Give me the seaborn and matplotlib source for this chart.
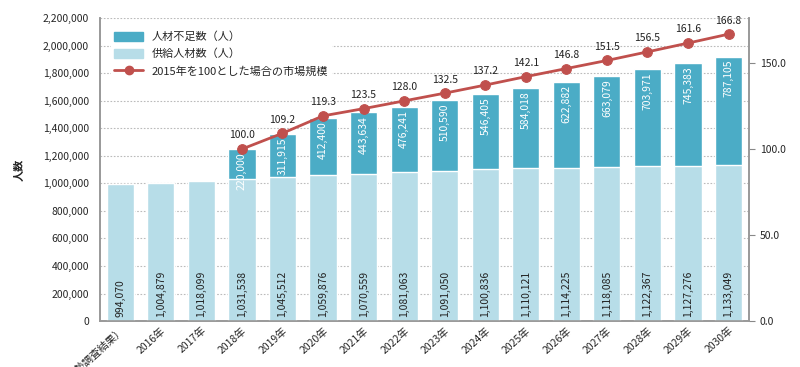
import numpy as np
import pandas as pd
import seaborn as sns
import matplotlib.pyplot as plt
from matplotlib.patches import Patch
from matplotlib.lines import Line2D
from matplotlib.ticker import FuncFormatter, MultipleLocator

years = ["2015年（国勢調査結果）", "2016年", "2017年", "2018年", "2019年", "2020年",
         "2021年", "2022年", "2023年", "2024年", "2025年", "2026年", "2027年",
         "2028年", "2029年", "2030年"]
supply = [994070, 1004879, 1018099, 1031538, 1045512, 1059876, 1070559, 1081063,
          1091050, 1100836, 1110121, 1114225, 1118085, 1122367, 1127276, 1133049]
shortage = [0, 0, 0, 220000, 311915, 412400, 443634, 476241, 510590, 546405,
            584018, 622882, 663079, 703971, 745383, 787105]
market_years = years[3:]
market = [100.0, 109.2, 119.3, 123.5, 128.0, 132.5, 137.2, 142.1, 146.8, 151.5,
          156.5, 161.6, 166.8]

c_short = "#4BACC6"
c_supply = "#B7DDE8"
c_line = "#C0504D"

sns.set_style("white")
plt.rcParams['font.family'] = ['Noto Sans CJK JP', 'DejaVu Sans']

df = pd.DataFrame({"year": years, "supply": supply, "shortage": shortage})
df["total"] = df["supply"] + df["shortage"]

fig, ax = plt.subplots(figsize=(8, 3.67), dpi=100)
fig.subplots_adjust(left=0.125, right=0.936, top=0.951, bottom=0.125)

sns.barplot(data=df, x="year", y="total", color=c_short, width=0.67, ax=ax,
            saturation=1, zorder=2)
sns.barplot(data=df, x="year", y="supply", color=c_supply, width=0.67, ax=ax,
            saturation=1, zorder=3)

ax.set_xlim(-0.5, len(years) - 0.5)
ax.set_ylim(0, 2200000)
ax.yaxis.set_major_locator(MultipleLocator(200000))
ax.yaxis.set_major_formatter(FuncFormatter(lambda v, p: f"{int(v):,}"))
ax.grid(axis="y", color="#BBBBBB", linestyle=(0, (1.5, 1.5)), linewidth=0.8, zorder=0)
ax.set_axisbelow(True)
ax.set_xlabel("")
ax.set_ylabel("人数", fontsize=8, fontweight="bold", labelpad=12)
ax.tick_params(axis="y", labelsize=7.5, length=0, pad=8)
ax.tick_params(axis="x", labelsize=7.5, length=0, pad=3)
ax.set_xticks(np.arange(-0.5, len(years), 1), minor=True)
ax.tick_params(axis="x", which="minor", length=5, color="#888888", direction="out")
for lab in ax.get_xticklabels():
    lab.set_rotation(42)
    lab.set_ha("right")
    lab.set_rotation_mode("anchor")

ax.spines["top"].set_visible(False)
for sp in ["left", "bottom", "right"]:
    ax.spines[sp].set_color("#999999")
    ax.spines[sp].set_linewidth(1.2)

# value labels
for i, (s, sh, t) in enumerate(zip(supply, shortage, df["total"])):
    ax.text(i, 30000, f"{s:,}", rotation=90, ha="center", va="bottom",
            fontsize=7.5, color="#222222", zorder=5)
    if sh > 0:
        ax.text(i, t - 25000, f"{sh:,}", rotation=90, ha="center", va="top",
                fontsize=7.5, color="white", zorder=5)

ax2 = ax.twinx()
pos = [years.index(y) for y in market_years]
sns.lineplot(x=pos, y=market, ax=ax2, color=c_line, linewidth=2, marker="o",
             markersize=7, markeredgecolor=c_line, zorder=6)
ax2.set_ylim(0, 176.2)
ax2.yaxis.set_major_locator(MultipleLocator(50))
ax2.yaxis.set_major_formatter(FuncFormatter(lambda v, p: f"{v:.1f}"))
ax2.tick_params(axis="y", labelsize=7.5, length=4, color="#888888", pad=4)
ax2.spines["top"].set_visible(False)
for sp in ["left", "bottom", "right"]:
    ax2.spines[sp].set_color("#999999")
    ax2.spines[sp].set_linewidth(1.2)
for x, v in zip(pos, market):
    ax2.text(x, v + 5, f"{v:.1f}", ha="center", va="bottom", fontsize=7.5,
             color="#222222")

handles = [Patch(color=c_short), Patch(color=c_supply),
           Line2D([0], [0], color=c_line, linewidth=2, marker="o", markersize=6)]
labels = ["人材不足数（人）", "供給人材数（人）", "2015年を100とした場合の市場規模"]
leg = ax2.legend(handles, labels, loc="upper left", bbox_to_anchor=(0.008, 0.985),
                 frameon=True, fontsize=8, handlelength=2.6, handleheight=0.9,
                 labelspacing=0.6, borderpad=0.3)
leg.get_frame().set_facecolor("white")
leg.get_frame().set_edgecolor("none")
leg.get_frame().set_alpha(1)

fig.savefig("out.png", dpi=100)
